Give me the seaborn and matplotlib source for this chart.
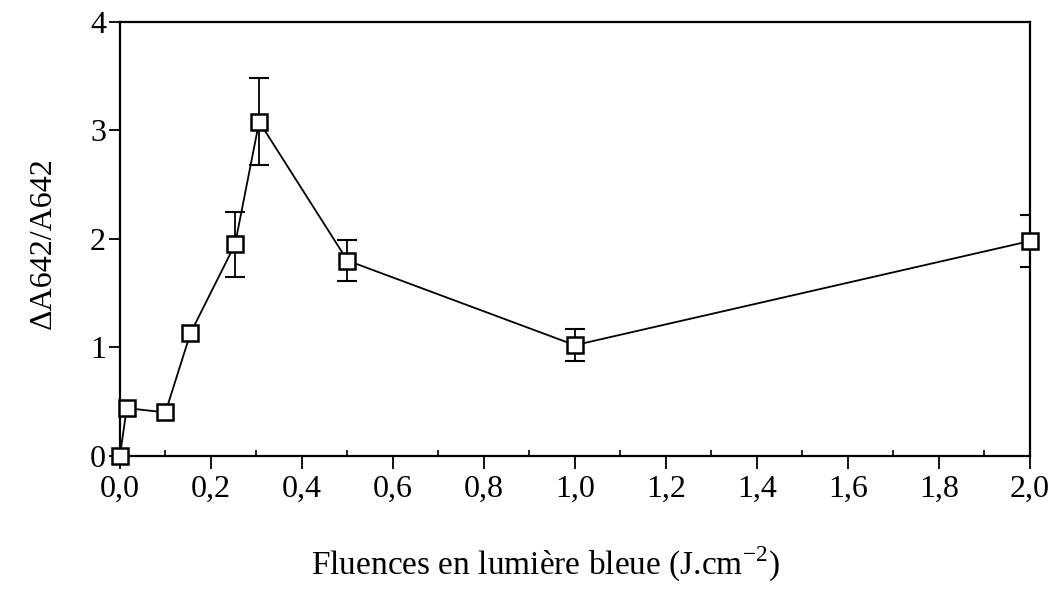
import numpy as np
import pandas as pd
import matplotlib
matplotlib.use("Agg")
import matplotlib.pyplot as plt
import seaborn as sns
from matplotlib.ticker import MultipleLocator, FuncFormatter

# fluence (J/cm2) vs relative absorbance change
fluence = [0.0, 0.015, 0.10, 0.155, 0.253, 0.306, 0.50, 1.0, 2.0]
delta_a = [0.0, 0.44, 0.40, 1.13, 1.95, 3.08, 1.80, 1.02, 1.98]
err = [0.0, 0.0, 0.0, 0.0, 0.30, 0.40, 0.19, 0.15, 0.24]

df = pd.DataFrame({"fluence": fluence, "delta": delta_a, "err": err})

sns.set_style("ticks")
plt.rcParams["font.family"] = ["Liberation Serif", "DejaVu Serif"]
plt.rcParams["text.color"] = "black"
plt.rcParams["axes.labelcolor"] = "black"
plt.rcParams["xtick.color"] = "black"
plt.rcParams["ytick.color"] = "black"
plt.rcParams["axes.edgecolor"] = "black"

fig = plt.figure(figsize=(10.52, 5.92), dpi=100)
ax = fig.add_axes([0.114, 0.230, 0.865, 0.733])

# error bars (caps) behind the markers
eb = df[df["err"] > 0]
ax.errorbar(eb["fluence"], eb["delta"], yerr=eb["err"], fmt="none",
            ecolor="black", elinewidth=1.3, capsize=7, capthick=1.5, zorder=2)

sns.lineplot(data=df, x="fluence", y="delta", ax=ax, color="black",
             linewidth=1.3, marker="s", markersize=12,
             markerfacecolor="white", markeredgecolor="black",
             markeredgewidth=1.8, zorder=3, clip_on=False)

ax.set_xlim(0, 2.0)
ax.set_ylim(0, 4)
ax.xaxis.set_major_locator(MultipleLocator(0.2))
ax.xaxis.set_minor_locator(MultipleLocator(0.1))
ax.yaxis.set_major_locator(MultipleLocator(1))
ax.xaxis.set_major_formatter(FuncFormatter(lambda v, p: f"{v:.1f}".replace(".", ",")))

ax.tick_params(axis="x", which="major", direction="out", length=9, width=1.3,
               labelsize=23, pad=5)
ax.tick_params(axis="x", which="minor", direction="in", length=4, width=1.2)
ax.tick_params(axis="y", which="major", direction="out", length=8, width=1.3,
               labelsize=23, pad=2)
for s in ax.spines.values():
    s.set_linewidth(1.6)
    s.set_visible(True)

ax.set_xlabel("Fluences en lumière bleue (J.cm$^{\\mathregular{-2}}$)",
              fontsize=24)
ax.xaxis.set_label_coords(0.467, -0.205)
ax.set_ylabel("ΔA642/A642", fontsize=23)
ax.yaxis.set_label_coords(-0.068, 0.49)

fig.savefig("out.png", dpi=100)
